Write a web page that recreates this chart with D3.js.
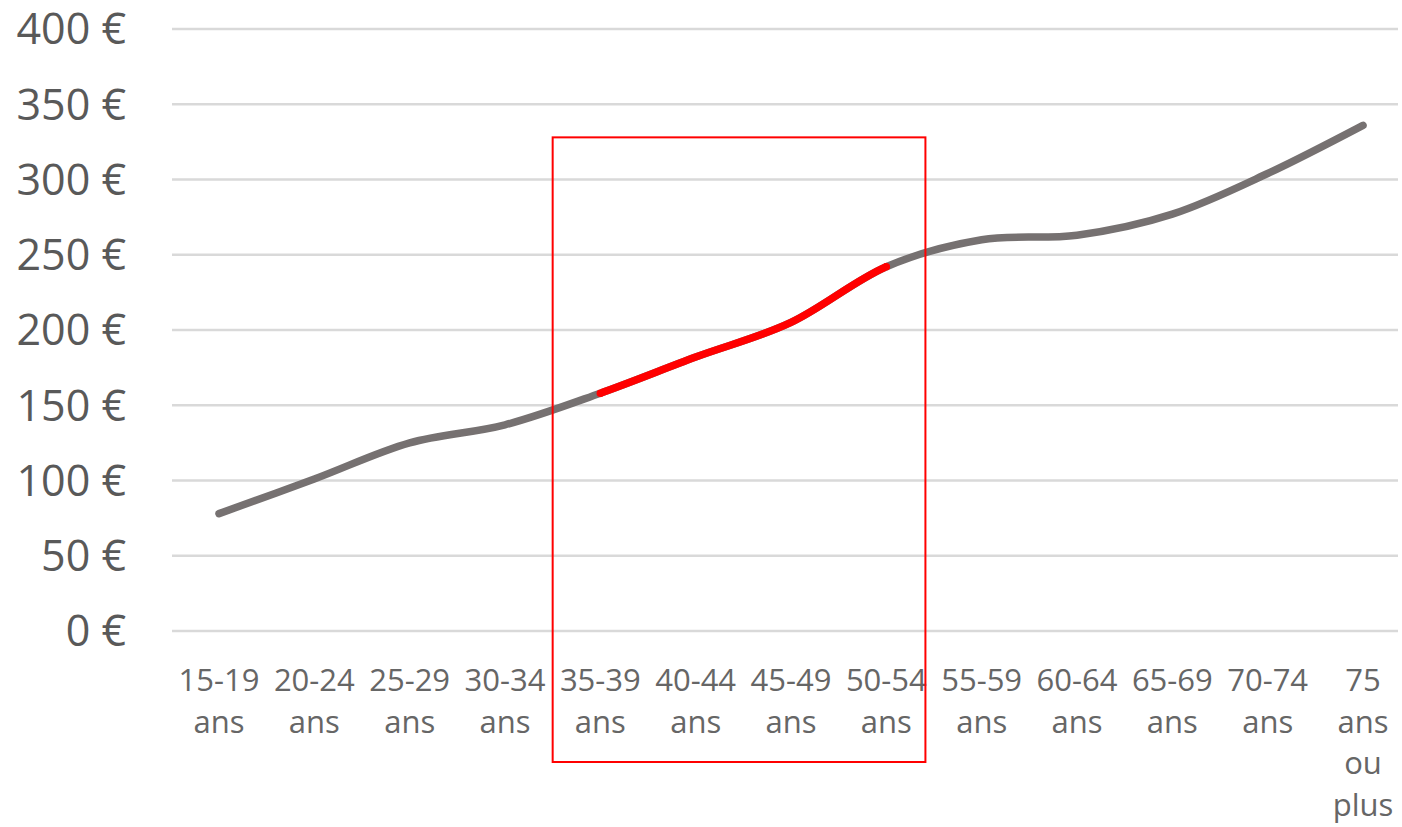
<!DOCTYPE html>
<html>
<head>
<meta charset="utf-8">
<script src="https://cdn.jsdelivr.net/npm/d3@7"></script>
<style>
  html, body { margin: 0; padding: 0; background: #fff; }
  svg { display: block; }
  text { font-family: "Open Sans", "Noto Sans", sans-serif; }
</style>
</head>
<body>
<svg id="chart" width="1402" height="827"></svg>
<script>
const categories = ["15-19 ans","20-24 ans","25-29 ans","30-34 ans","35-39 ans","40-44 ans","45-49 ans","50-54 ans","55-59 ans","60-64 ans","65-69 ans","70-74 ans","75 ans ou plus"];
const values = [78, 101, 125, 137, 158, 182, 205, 242, 260, 263, 277, 304, 336];
const yTicks = [0, 50, 100, 150, 200, 250, 300, 350, 400];
const highlightStart = "35-39 ans";
const highlightEnd = "50-54 ans";

const svg = d3.select("#chart");
const gridLeft = 172, gridRight = 1398;
const x = d3.scalePoint().domain(categories).range([219, 1363]);
const step = x.step();
const y = d3.scaleLinear().domain([0, 400]).range([631, 29]);

// gridlines
svg.append("g").selectAll("line").data(yTicks).join("line")
  .attr("x1", gridLeft).attr("x2", gridRight)
  .attr("y1", d => y(d)).attr("y2", d => y(d))
  .attr("stroke", "#d9d9d9").attr("stroke-width", 2.5);

// y labels
svg.append("g").selectAll("text").data(yTicks).join("text")
  .attr("x", 126).attr("y", d => y(d))
  .attr("dy", "0.36em")
  .attr("text-anchor", "end")
  .attr("font-size", 43)
  .attr("fill", "#595959")
  .text(d => d + " €");

// x labels
const xl = svg.append("g").selectAll("text").data(categories).join("text")
  .attr("x", d => x(d)).attr("y", 691)
  .attr("text-anchor", "middle")
  .attr("font-size", 31)
  .attr("fill", "#666666");
xl.each(function(d) {
  const parts = d.split(" ");
  d3.select(this).selectAll("tspan").data(parts).join("tspan")
    .attr("x", x(d))
    .attr("dy", (p, i) => i === 0 ? 0 : 41.5)
    .text(p => p);
});

const data = categories.map((c, i) => ({c, v: values[i]}));
const line = d3.line().x(d => x(d.c)).y(d => y(d.v)).curve(d3.curveCardinal.tension(0));

svg.append("path").datum(data)
  .attr("d", line)
  .attr("fill", "none")
  .attr("stroke", "#767171")
  .attr("stroke-width", 7.5)
  .attr("stroke-linecap", "round")
  .attr("stroke-linejoin", "round");

// highlighted segment (clipped)
const x0 = x(highlightStart), x1 = x(highlightEnd);
svg.append("clipPath").attr("id", "hl")
  .append("rect").attr("x", x0).attr("y", 0).attr("width", x1 - x0).attr("height", 827);
svg.append("path").datum(data)
  .attr("d", line)
  .attr("fill", "none")
  .attr("stroke", "#ff0000")
  .attr("stroke-width", 7.5)
  .attr("clip-path", "url(#hl)");
svg.append("g").selectAll("circle")
  .data(data.filter(d => d.c === highlightStart || d.c === highlightEnd))
  .join("circle")
  .attr("cx", d => x(d.c)).attr("cy", d => y(d.v)).attr("r", 3.75)
  .attr("fill", "#ff0000");

// annotation rectangle
const rl = x0 - step / 2;
const rr = x1 + step * 0.41;
svg.append("rect")
  .attr("x", rl).attr("y", y(328))
  .attr("width", rr - rl).attr("height", (y(0) + 131) - y(328))
  .attr("fill", "none")
  .attr("stroke", "#ff0000")
  .attr("stroke-width", 2);
</script>
</body>
</html>
